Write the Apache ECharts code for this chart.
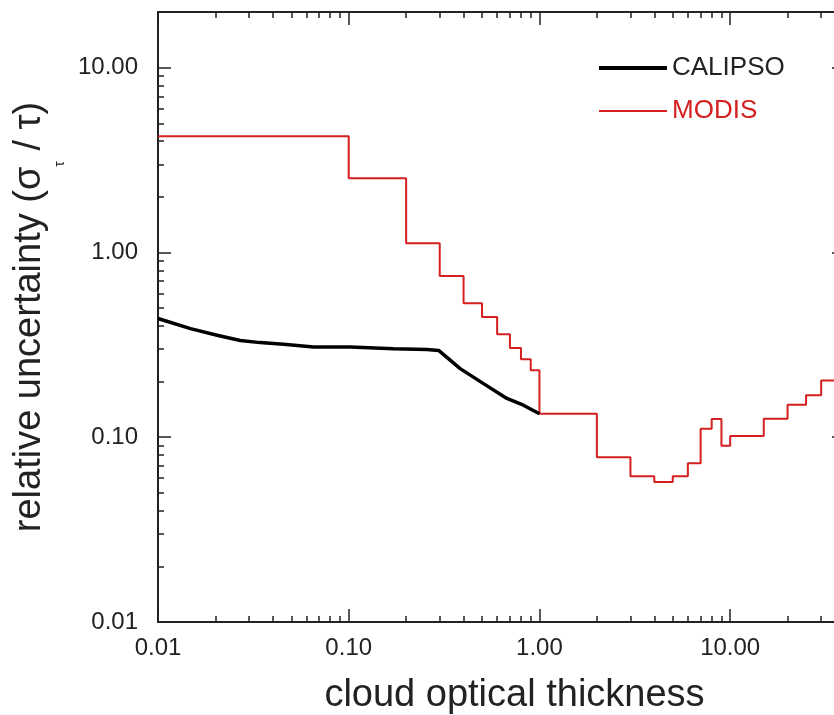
<!DOCTYPE html>
<html>
<head>
<meta charset="utf-8">
<script src="https://cdn.jsdelivr.net/npm/echarts@6/dist/echarts.min.js"></script>
<style>
html, body { margin: 0; padding: 0; background: #fff; }
#chart { width: 834px; height: 715px; }
</style>
</head>
<body>
<div id="chart"></div>
<script>
// CALIPSO curve
var calipsoTau = [0.01, 0.0148, 0.0204, 0.027, 0.0343, 0.0455, 0.0654, 0.102, 0.172, 0.257, 0.296, 0.384, 0.509, 0.675, 0.824, 1.0];
var calipsoErr = [0.439, 0.387, 0.356, 0.334, 0.325, 0.318, 0.308, 0.308, 0.301, 0.298, 0.295, 0.235, 0.195, 0.162, 0.149, 0.134];

// MODIS step line, value holds from each tau to the next one
var modisTau = [0.01, 0.1, 0.2, 0.3, 0.4, 0.5, 0.6, 0.7, 0.8, 0.9, 1, 2, 3, 4, 5, 6, 7, 8, 9, 10, 15, 20, 25, 30, 40];
var modisErr = [4.25, 2.52, 1.12, 0.745, 0.53, 0.447, 0.361, 0.304, 0.264, 0.230, 0.134, 0.078, 0.0614, 0.0572, 0.0614, 0.0724, 0.111, 0.1255, 0.090, 0.1015, 0.126, 0.150, 0.1685, 0.203, 0.203];

var tickValues = [0.01, 0.1, 1, 10];
var tickLabels = ['0.01', '0.10', '1.00', '10.00'];
var minorSteps = [2, 3, 4, 5, 6, 7, 8, 9];

var xMin = 0.01, xMax = 40;
var yMin = 0.01, yMax = 20;

function pairs(xs, ys) {
  var out = [];
  for (var i = 0; i < xs.length; i++) out.push([xs[i], ys[i]]);
  return out;
}

// minor tick positions in log10 units (for the helper tick axes)
function minorLogs(lo, hi) {
  var out = [];
  tickValues.forEach(function (d) {
    minorSteps.forEach(function (m) {
      var v = d * m;
      if (v > lo && v < hi) out.push(+Math.log10(v).toFixed(6));
    });
  });
  return out;
}

function fmt(v) {
  for (var i = 0; i < tickValues.length; i++) {
    if (Math.abs(v - tickValues[i]) < tickValues[i] * 1e-6) return tickLabels[i];
  }
  return '';
}

var font = 'Liberation Sans';
var ink = '#222';
var red = '#d42020';

function axis(extra) {
  var a = {
    type: 'log',
    logBase: 10,
    axisLine: { show: true, onZero: false, lineStyle: { color: ink, width: 2 } },
    axisTick: { show: true, inside: true, length: 13, lineStyle: { color: ink, width: 1.5 } },
    minorTick: { show: false },
    splitLine: { show: false },
    minorSplitLine: { show: false },
    axisLabel: { show: false }
  };
  for (var k in extra) a[k] = extra[k];
  return a;
}

// linear axis over log10 range, only used to draw the 2..9 minor ticks
function minorAxis(lo, hi, pos) {
  return axis({
    type: 'value',
    min: Math.log10(lo), max: Math.log10(hi), position: pos,
    axisLine: { show: false, onZero: false },
    axisTick: { show: true, inside: true, length: 6, customValues: minorLogs(lo, hi), lineStyle: { color: ink, width: 1.5 } }
  });
}

var chart = echarts.init(document.getElementById('chart'));
chart.setOption({
  animation: false,
  backgroundColor: '#fff',
  textStyle: { fontFamily: font },
  grid: { left: 158, top: 12, right: -11, bottom: 93, containLabel: false, outerBoundsMode: 'none' },
  legend: {
    orient: 'vertical',
    left: 597,
    top: 55,
    padding: 0,
    itemWidth: 68,
    itemHeight: 14,
    itemGap: 17,
    itemStyle: { opacity: 0 },
    textStyle: { fontFamily: font, fontSize: 26 },
    data: [
      { name: 'CALIPSO', textStyle: { color: ink }, lineStyle: { width: 4, color: '#000' } },
      { name: 'MODIS', textStyle: { color: red }, lineStyle: { width: 2, color: red } }
    ]
  },
  xAxis: [
    axis({
      min: xMin, max: xMax,
      name: 'cloud optical thickness',
      nameLocation: 'middle',
      nameGap: 55,
      nameTextStyle: { fontFamily: font, fontSize: 38, color: ink, padding: [0, 0, 0, 26] },
      axisLabel: { show: true, fontFamily: font, fontSize: 24, color: ink, margin: 14, formatter: fmt, showMaxLabel: false }
    }),
    axis({ min: xMin, max: xMax, position: 'top' }),
    minorAxis(xMin, xMax, 'bottom'),
    minorAxis(xMin, xMax, 'top')
  ],
  yAxis: [
    axis({
      min: yMin, max: yMax,
      name: '{a|relative uncertainty (σ}{s|τ}{a| / τ)}',
      nameLocation: 'middle',
      nameRotate: 90,
      nameGap: 90,
      nameTextStyle: {
        rich: {
          a: { fontFamily: font, fontSize: 38, color: ink, lineHeight: 75 },
          s: { fontFamily: font, fontSize: 14, color: ink, lineHeight: 75, verticalAlign: 'bottom' }
        }
      },
      axisLabel: { show: true, fontFamily: font, fontSize: 24, color: ink, margin: 20, formatter: fmt, showMaxLabel: false }
    }),
    axis({ min: yMin, max: yMax, position: 'right' }),
    minorAxis(yMin, yMax, 'left'),
    minorAxis(yMin, yMax, 'right')
  ],
  series: [
    {
      name: 'MODIS',
      type: 'line',
      step: 'end',
      symbol: 'none',
      xAxisIndex: 0,
      yAxisIndex: 0,
      data: pairs(modisTau, modisErr),
      lineStyle: { color: red, width: 2 },
      itemStyle: { color: red }
    },
    {
      name: 'CALIPSO',
      type: 'line',
      symbol: 'none',
      xAxisIndex: 0,
      yAxisIndex: 0,
      data: pairs(calipsoTau, calipsoErr),
      lineStyle: { color: '#000', width: 3.5 },
      itemStyle: { color: '#000' }
    }
  ]
});
</script>
</body>
</html>
